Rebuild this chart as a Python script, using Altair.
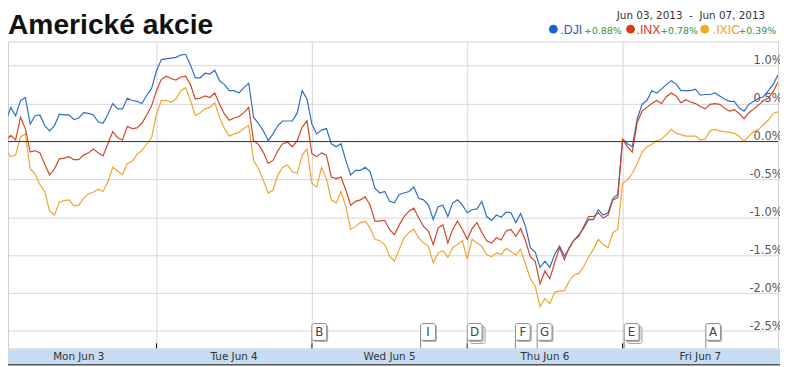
import altair as alt
import pandas as pd

# ---------------- data ----------------
days = ["Mon Jun 3", "Tue Jun 4", "Wed Jun 5", "Thu Jun 6", "Fri Jun 7"]
symbols = [".DJI", ".INX", ".IXIC"]
changes = ["+0.88%", "+0.78%", "+0.39%"]
title_text = "Americké akcie"
date_range = "Jun 03, 2013\u00a0\u00a0-\u00a0\u00a0Jun 07, 2013"
y_ticks = [-2.5, -2.0, -1.5, -1.0, -0.5, 0.0, 0.5, 1.0]
day_bounds = [1, 2, 3, 4]

event_letters = ["B", "I", "D", "F", "G", "E", "A"]
event_times = [2.0, 2.70, 3.0, 3.31, 3.45, 4.01, 4.535]
event_stack = [1, 1, 2, 1, 1, 2, 1]

# % change, sampled ~32 times per session
dji_mon = [0.38, 0.27, 0.45, 0.34, 0.54, 0.58, 0.23, 0.34, 0.35, 0.21, 0.14, 0.21, 0.36, 0.35, 0.35, 0.29,
           0.31, 0.38, 0.37, 0.35, 0.26, 0.24, 0.36, 0.50, 0.43, 0.43, 0.57, 0.54, 0.53, 0.50, 0.61, 0.70]
dji_tue = [0.93, 1.08, 1.09, 1.10, 1.11, 1.14, 1.15, 1.01, 0.84, 0.84, 0.90, 0.89, 0.94, 0.80, 0.75, 0.67,
           0.67, 0.64, 0.71, 0.77, 0.32, 0.24, 0.14, 0.01, 0.10, 0.21, 0.27, 0.27, 0.27, 0.38, 0.67, 0.56]
dji_wed = [0.23, 0.10, 0.15, 0.17, -0.03, -0.07, -0.03, -0.25, -0.44, -0.38, -0.38, -0.34, -0.40, -0.62, -0.68, -0.66,
           -0.79, -0.81, -0.70, -0.68, -0.66, -0.60, -0.75, -0.77, -0.84, -1.03, -0.86, -0.84, -0.99, -0.81, -0.77, -0.84]
dji_thu = [-0.94, -0.90, -0.89, -0.79, -0.99, -1.04, -0.97, -1.00, -0.93, -0.94, -1.07, -0.95, -1.12, -1.40, -1.46, -1.66,
           -1.58, -1.66, -1.49, -1.38, -1.51, -1.41, -1.30, -1.23, -1.14, -1.03, -1.03, -0.90, -0.97, -0.94, -0.75, -0.70]
dji_fri = [0.03, -0.03, -0.07, 0.30, 0.49, 0.54, 0.67, 0.64, 0.69, 0.75, 0.80, 0.76, 0.67, 0.67, 0.67, 0.69,
           0.61, 0.62, 0.62, 0.64, 0.60, 0.56, 0.53, 0.53, 0.44, 0.40, 0.49, 0.53, 0.57, 0.59, 0.67, 0.75, 0.88]

inx_mon = [0.17, 0.01, 0.08, 0.02, 0.32, 0.17, -0.14, -0.12, -0.15, -0.30, -0.44, -0.36, -0.23, -0.22, -0.20, -0.24,
           -0.24, -0.18, -0.15, -0.10, -0.15, -0.19, -0.03, 0.13, 0.05, 0.02, 0.20, 0.17, 0.18, 0.24, 0.35, 0.47]
inx_tue = [0.67, 0.82, 0.86, 0.83, 0.81, 0.85, 0.86, 0.75, 0.56, 0.57, 0.60, 0.58, 0.64, 0.49, 0.36, 0.28,
           0.31, 0.33, 0.38, 0.45, 0.01, -0.04, -0.14, -0.29, -0.25, -0.12, -0.03, -0.01, -0.07, 0.01, 0.19, 0.27]
inx_wed = [-0.16, -0.20, -0.15, -0.18, -0.47, -0.49, -0.47, -0.64, -0.84, -0.79, -0.77, -0.73, -0.84, -1.05, -1.05, -1.04,
           -1.16, -1.23, -1.10, -0.99, -0.92, -0.88, -1.01, -1.12, -1.18, -1.36, -1.14, -1.10, -1.34, -1.16, -1.05, -1.16]
inx_thu = [-1.29, -1.15, -1.07, -1.20, -1.31, -1.34, -1.27, -1.30, -1.18, -1.16, -1.25, -1.15, -1.31, -1.52, -1.58, -1.88,
           -1.71, -1.81, -1.60, -1.40, -1.56, -1.40, -1.30, -1.25, -1.12, -0.99, -0.99, -0.94, -1.01, -0.97, -0.77, -0.74]
inx_fri = [0.03, -0.07, -0.14, 0.25, 0.40, 0.45, 0.50, 0.54, 0.50, 0.59, 0.64, 0.60, 0.51, 0.55, 0.52, 0.50,
           0.46, 0.43, 0.49, 0.50, 0.49, 0.44, 0.40, 0.42, 0.37, 0.30, 0.38, 0.43, 0.48, 0.54, 0.57, 0.66, 0.78]

ixic_mon = [0.14, -0.12, -0.20, -0.18, 0.06, 0.10, -0.36, -0.43, -0.57, -0.66, -0.92, -0.97, -0.80, -0.78, -0.77, -0.85,
            -0.84, -0.75, -0.69, -0.67, -0.63, -0.66, -0.53, -0.34, -0.39, -0.44, -0.29, -0.26, -0.17, -0.12, -0.03, 0.05]
ixic_tue = [0.36, 0.54, 0.54, 0.52, 0.56, 0.67, 0.71, 0.54, 0.34, 0.38, 0.43, 0.45, 0.51, 0.32, 0.17, 0.07,
            0.10, 0.12, 0.17, 0.21, -0.25, -0.36, -0.51, -0.68, -0.64, -0.44, -0.34, -0.31, -0.40, -0.42, -0.18, -0.10]
ixic_wed = [-0.55, -0.60, -0.34, -0.49, -0.77, -0.81, -0.66, -0.86, -1.16, -1.12, -1.07, -1.05, -1.14, -1.29, -1.31, -1.36,
            -1.51, -1.58, -1.42, -1.27, -1.20, -1.16, -1.27, -1.34, -1.38, -1.60, -1.47, -1.44, -1.53, -1.40, -1.36, -1.31]
ixic_thu = [-1.55, -1.29, -1.34, -1.38, -1.49, -1.52, -1.47, -1.49, -1.41, -1.45, -1.50, -1.42, -1.62, -1.81, -1.91, -2.18,
            -2.07, -2.14, -1.99, -1.97, -1.97, -1.84, -1.76, -1.74, -1.65, -1.52, -1.42, -1.29, -1.36, -1.40, -1.20, -1.16]
ixic_fri = [-0.55, -0.51, -0.42, -0.29, -0.14, -0.07, -0.04, 0.01, 0.03, 0.09, 0.16, 0.11, 0.09, 0.07, 0.07, 0.07,
            0.02, 0.03, 0.14, 0.16, 0.14, 0.13, 0.12, 0.11, 0.07, 0.00, 0.07, 0.13, 0.16, 0.22, 0.28, 0.37, 0.39]

series_days = {
    ".DJI": [dji_mon, dji_tue, dji_wed, dji_thu, dji_fri],
    ".INX": [inx_mon, inx_tue, inx_wed, inx_thu, inx_fri],
    ".IXIC": [ixic_mon, ixic_tue, ixic_wed, ixic_thu, ixic_fri],
}

rows = []
for sym in symbols:
    for d, vals in enumerate(series_days[sym]):
        for j, v in enumerate(vals):
            rows.append({"series": sym, "t": d + j / 32.0, "v": v})
df = pd.DataFrame(rows)

# ---------------- styles ----------------
line_colors = ["#2f6fc2", "#cf4628", "#f0a530"]
dot_colors = ["#1a62d4", "#d63b16", "#f5a81f"]
text_colors = ["#2a5db0", "#d03a1a", "#f0a020"]
green = "#3a8f3a"
grid_c = "#d6d6d6"

W, H = 778, 310
xs = alt.Scale(domain=[7 / 157, 5.0], nice=False, zero=False)
ys = alt.Scale(domain=[-2.7285, 1.3185], nice=False, zero=False)

label_expr = "(datum.value < 0 ? '-' : '') + format(abs(datum.value), '.1f') + '%'"

x_axis = alt.Axis(values=day_bounds, grid=True, gridColor=grid_c, gridWidth=1,
                  labels=False, ticks=False, domain=False, title=None)
y_axis = alt.Axis(orient="right", values=y_ticks, grid=True, gridColor=grid_c, gridWidth=1,
                  domain=False, ticks=False, tickSize=0, labelPadding=4,
                  labelAlign="right", labelBaseline="alphabetic", labelOffset=-2,
                  labelFont="DejaVu Sans", labelFontSize=11.5, labelColor="#555555",
                  labelExpr=label_expr, labelFlush=False, labelOverlap=False, title=None)

X = alt.X("t:Q", scale=xs, axis=x_axis)
Y = alt.Y("v:Q", scale=ys, axis=y_axis)

lines = alt.Chart(df).mark_line(strokeWidth=1.2, clip=True).encode(
    x=X, y=Y,
    color=alt.Color("series:N", scale=alt.Scale(domain=symbols, range=line_colors), legend=None),
    detail="series:N",
)

zero_rule = alt.Chart(pd.DataFrame({"v": [0.0]})).mark_rule(color="#5a3030", strokeWidth=1).encode(y=Y)

one = pd.DataFrame({"a": [0]})
band = alt.Chart(one).mark_rect(color="#c7dcf2").encode(
    x=alt.value(0), x2=alt.value(780), y=alt.value(311), y2=alt.value(326)
)
band_line = alt.Chart(one).mark_rule(color="#555555", strokeWidth=1.5).encode(
    x=alt.value(0), x2=alt.value(780), y=alt.value(326.5)
)

day_df = pd.DataFrame({"t": [d + 0.5 for d in range(len(days))], "label": days})
day_labels = alt.Chart(day_df).mark_text(font="DejaVu Sans", fontSize=10.5, color="#333333",
                                         baseline="middle").encode(
    x=X, y=alt.value(318.5), text="label:N"
)

tick_df = pd.DataFrame({"t": day_bounds})
day_ticks = alt.Chart(tick_df).mark_rule(color="#000000", strokeWidth=1).encode(
    x=X, y=alt.value(305), y2=alt.value(310)
)

ev_df = pd.DataFrame({"t": event_times, "letter": event_letters, "stack": event_stack})
ev_base = alt.Chart(ev_df)
ev_stem = ev_base.mark_rule(color="#888888").encode(x=X, y=alt.value(300), y2=alt.value(310))
ev_shadow2 = ev_base.transform_filter("datum.stack > 1").mark_rect(
    fill="#ffffff", stroke="#999999", strokeWidth=1, cornerRadius=2,
    xOffset=3, x2Offset=18, yOffset=3, y2Offset=3).encode(
    x=X, x2="t:Q", y=alt.value(285), y2=alt.value(302))
ev_shadow = ev_base.mark_rect(fill="#b0b0b0", cornerRadius=2, xOffset=1.5, x2Offset=16.5,
                              yOffset=1.5, y2Offset=1.5).encode(
    x=X, x2="t:Q", y=alt.value(285), y2=alt.value(302))
ev_box = ev_base.mark_rect(fill="#ffffff", stroke="#8a8a8a", strokeWidth=1, cornerRadius=2,
                           x2Offset=15).encode(
    x=X, x2="t:Q", y=alt.value(285), y2=alt.value(302))
ev_text = ev_base.mark_text(font="DejaVu Sans", fontSize=12, color="#444444", dx=7.5,
                            baseline="middle").encode(
    x=X, y=alt.value(294), text="letter:N")

title_mark = alt.Chart(one).mark_text(text=title_text, font="Liberation Sans", fontSize=28.5,
                                      fontWeight="bold", color="#111111", align="left",
                                      baseline="alphabetic").encode(x=alt.value(0), y=alt.value(-8))
range_mark = alt.Chart(one).mark_text(text=date_range, font="DejaVu Sans", fontSize=10.5,
                                      color="#333333", align="right",
                                      baseline="alphabetic").encode(x=alt.value(765), y=alt.value(-23))

legend_layers = []
dot_x = [551, 629, 704]
name_x = [558, 635, 712]
chg_x = [582, 659, 738]
for i in range(3):
    legend_layers.append(
        alt.Chart(one).mark_point(shape="circle", filled=True, size=80, opacity=1,
                                  color=dot_colors[i]).encode(x=alt.value(dot_x[i]), y=alt.value(-12.5)))
    legend_layers.append(
        alt.Chart(one).mark_text(text=symbols[i], font="Liberation Sans", fontSize=12.5,
                                 color=text_colors[i], align="left",
                                 baseline="alphabetic").encode(x=alt.value(name_x[i]), y=alt.value(-8)))
    legend_layers.append(
        alt.Chart(one).mark_text(text=changes[i], font="DejaVu Sans", fontSize=9.5,
                                 color=green, align="left",
                                 baseline="alphabetic").encode(x=alt.value(chg_x[i]), y=alt.value(-8)))

chart = alt.layer(
    lines, zero_rule, day_ticks, band, band_line, day_labels,
    ev_stem, ev_shadow2, ev_shadow, ev_box, ev_text,
    title_mark, range_mark, *legend_layers
).properties(
    width=W, height=H,
    padding={"left": 0, "top": 32, "right": 2, "bottom": 17},
    autosize=alt.AutoSizeParams(type="none"),
    background="#ffffff",
).configure_view(stroke="#cfcfcf", strokeWidth=1)

chart.save("out.html", embed_options={"renderer": "svg", "actions": False})
